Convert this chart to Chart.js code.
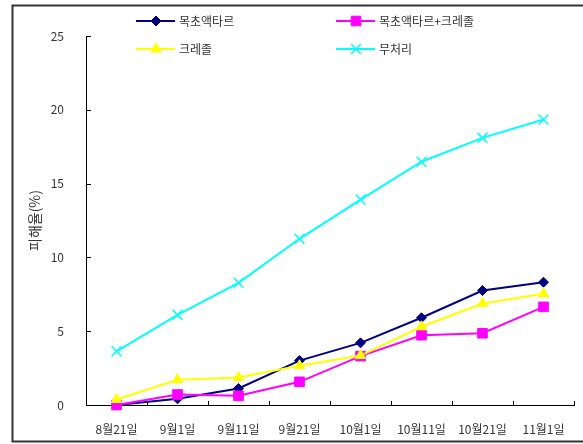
<!DOCTYPE html>
<html>
<head>
<meta charset="utf-8">
<script src="https://cdn.jsdelivr.net/npm/chart.js@4/dist/chart.umd.min.js"></script>
<style>
  html, body { margin: 0; padding: 0; background: #fff; }
  #wrap { width: 583px; height: 444px; }
</style>
</head>
<body>
<div id="wrap"><canvas id="chart" width="583" height="444"></canvas></div>
<script>
/* ─── Data ───────────────────────────────────── */
const dates = ['8월21일', '9월1일', '9월11일', '9월21일', '10월1일', '10월11일', '10월21일', '11월1일'];
const seriesNames = ['목초액타르', '목초액타르+크레졸', '크레졸', '무처리'];
const mokcho = [0, 0.42, 1.12, 3.01, 4.21, 5.91, 7.76, 8.32];
const mokchoCresol = [0, 0.71, 0.62, 1.57, 3.31, 4.73, 4.86, 6.65];
const cresol = [0.37, 1.71, 1.86, 2.66, 3.35, 5.3, 6.88, 7.53];
const control = [3.64, 6.11, 8.28, 11.26, 13.92, 16.48, 18.1, 19.34];
const yTicks = [0, 5, 10, 15, 20, 25];

const FONT = "'Noto Sans CJK KR', 'Noto Sans', sans-serif";
const TEXT_COLOR = '#333';

function makeSet(label, data, color, style, radius, order) {
    return {
        label: label,
        data: data,
        borderColor: color,
        backgroundColor: color,
        borderWidth: 2,
        pointStyle: style,
        pointRadius: radius,
        pointHoverRadius: radius,
        pointBorderWidth: style === 'crossRot' ? 1.5 : 1,
        pointBackgroundColor: color,
        pointBorderColor: color,
        tension: 0,
        clip: false,
        order: order
    };
}

/* ─── Plugins ────────────────────────────────── */
const framePlugin = {
    id: 'frame',
    beforeDraw(chart) {
        const ctx = chart.ctx;
        ctx.save();
        ctx.strokeStyle = '#333';
        ctx.lineWidth = 2;
        ctx.strokeRect(12.5, 5.5, 620, 436);
        ctx.restore();
    }
};

// tick marks pointing into the plot, like the original
const innerTicks = {
    id: 'innerTicks',
    afterDraw(chart) {
        const ctx = chart.ctx;
        const x = chart.scales.x, y = chart.scales.y;
        ctx.save();
        ctx.strokeStyle = '#000';
        ctx.lineWidth = 1;
        ctx.beginPath();
        const n = x.ticks.length;
        for (let i = 1; i <= n; i++) {
            const px = Math.round(x.left + i * x.width / n) + 0.5;
            ctx.moveTo(px, y.bottom);
            ctx.lineTo(px, y.bottom - 4);
        }
        y.ticks.forEach(t => {
            const py = Math.round(y.getPixelForValue(t.value)) + 0.5;
            ctx.moveTo(x.left, py);
            ctx.lineTo(x.left + 5, py);
        });
        ctx.stroke();
        ctx.restore();
    }
};

// two-column legend with line + marker
const boxLegend = {
    id: 'boxLegend',
    afterDraw(chart) {
        const ctx = chart.ctx;
        const spots = [[136, 21], [336, 21], [136, 49], [336, 49]];
        ctx.save();
        ctx.font = '12px ' + FONT;
        ctx.textBaseline = 'middle';
        chart.data.datasets.forEach((ds, i) => {
            const [lx, ly] = spots[i];
            ctx.strokeStyle = ds.borderColor;
            ctx.lineWidth = 2;
            ctx.beginPath();
            ctx.moveTo(lx, ly);
            ctx.lineTo(lx + 39, ly);
            ctx.stroke();
            ctx.fillStyle = ds.pointBackgroundColor;
            ctx.lineWidth = ds.pointBorderWidth;
            Chart.helpers.drawPoint(ctx, {
                pointStyle: ds.pointStyle,
                radius: ds.pointRadius,
                rotation: 0,
                borderWidth: ds.pointBorderWidth
            }, lx + 20, ly);
            ctx.fillStyle = TEXT_COLOR;
            ctx.fillText(ds.label, lx + 43, ly);
        });
        ctx.restore();
    }
};

/* ─── Chart ──────────────────────────────────── */
new Chart(document.getElementById('chart').getContext('2d'), {
    type: 'line',
    data: {
        labels: dates,
        datasets: [
            makeSet(seriesNames[0], mokcho, '#000080', 'rectRot', 5, 3),
            makeSet(seriesNames[1], mokchoCresol, '#ff00ff', 'rect', 6.8, 2),
            makeSet(seriesNames[2], cresol, '#ffff00', 'triangle', 6, 1),
            makeSet(seriesNames[3], control, '#00ffff', 'crossRot', 7, 0)
        ]
    },
    options: {
        responsive: false,
        animation: false,
        layout: { padding: { left: 22, top: 36, right: 9, bottom: 0 } },
        plugins: {
            legend: { display: false },
            tooltip: { enabled: false }
        },
        scales: {
            x: {
                type: 'category',
                offset: true,
                grid: { display: false },
                border: { display: true, color: '#000', width: 1 },
                ticks: {
                    font: { family: FONT, size: 12 },
                    color: TEXT_COLOR,
                    padding: 9,
                    maxRotation: 0,
                    autoSkip: false
                },
                afterFit(scale) { scale.height = 39; }
            },
            y: {
                min: 0,
                max: 25,
                grid: { display: false },
                border: { display: true, color: '#000', width: 1 },
                afterBuildTicks(scale) { scale.ticks = yTicks.map(v => ({ value: v })); },
                ticks: {
                    font: { family: FONT, size: 12 },
                    color: TEXT_COLOR,
                    padding: 14
                },
                title: {
                    display: true,
                    text: '피해율(%)',
                    font: { family: FONT, size: 14 },
                    color: TEXT_COLOR
                },
                afterFit(scale) { scale.width = 64; }
            }
        }
    },
    plugins: [framePlugin, innerTicks, boxLegend]
});
</script>
</body>
</html>
